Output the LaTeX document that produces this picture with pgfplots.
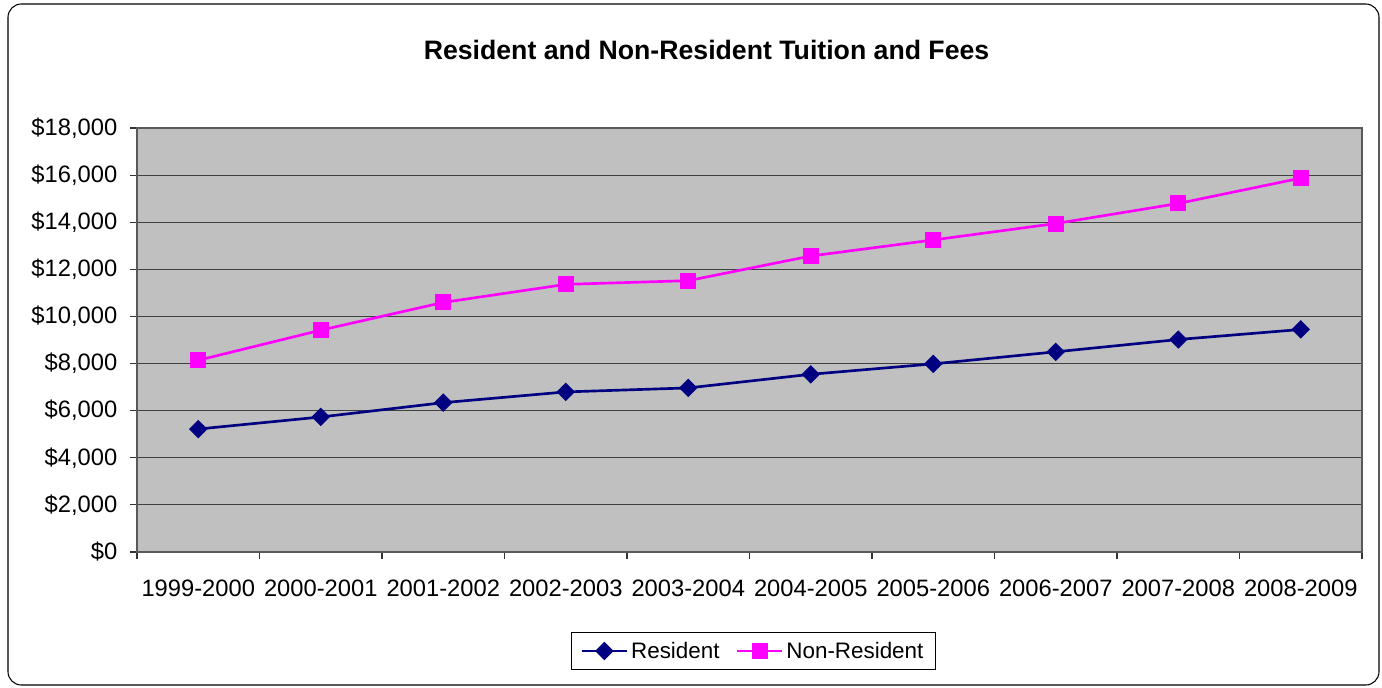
\documentclass[border=0pt]{standalone}
\usepackage{pgfplots}
\pgfplotsset{compat=1.18}
\usepackage{fontspec}
\setmainfont{Liberation Sans}
\definecolor{resblue}{HTML}{000080}
\definecolor{nonres}{HTML}{FF00FF}
\definecolor{plotbg}{HTML}{C0C0C0}
\begin{document}
\begin{tikzpicture}
\path[use as bounding box] (0,0) rectangle (1036.5pt,515.25pt);
\draw[black, line width=0.8pt, rounded corners=10pt] (6pt,1.5pt) rectangle (1034.25pt,512.25pt);
\node[font=\fontsize{20}{23}\selectfont\bfseries] at (529.9pt,477.75pt) {Resident and Non-Resident Tuition and Fees};
\begin{axis}[
  at={(102.75pt,101.25pt)}, anchor=south west,
  scale only axis, width=918.75pt, height=318pt,
  xmin=-0.5, xmax=9.5, ymin=0, ymax=18000,
  scaled y ticks=false,
  axis background/.style={fill=plotbg},
  axis line style={draw=gray!70!black, line width=0.8pt},
  font=\fontsize{17.8}{20}\selectfont,
  xtick pos=bottom, ytick pos=left,
  xtick={0,...,9},
  xticklabels={1999-2000,2000-2001,2001-2002,2002-2003,2003-2004,2004-2005,2005-2006,2006-2007,2007-2008,2008-2009},
  x tick style={draw=none},
  minor xtick={-0.5,0.5,1.5,2.5,3.5,4.5,5.5,6.5,7.5,8.5,9.5},
  minor x tick style={draw=black!80, line width=0.8pt},
  minor tick length=5.25pt,
  xticklabel style={yshift=-12pt},
  ytick={0,2000,4000,6000,8000,10000,12000,14000,16000,18000},
  yticklabels={{\$0},{\$2,000},{\$4,000},{\$6,000},{\$8,000},{\$10,000},{\$12,000},{\$14,000},{\$16,000},{\$18,000}},
  y tick style={draw=black!80, line width=0.8pt},
  major tick length=5.25pt,
  tick align=outside,
  yticklabel style={xshift=-6pt},
  ymajorgrids,
  grid style={draw=black!75, line width=0.8pt},
  clip=false,
  legend columns=2,
  legend style={at={(0.503,-0.2335)}, anchor=center, draw=black, line width=0.6pt,
    font=\fontsize{16.8}{19}\selectfont, inner xsep=7pt, inner ysep=5pt,
    /tikz/every even column/.append style={column sep=10pt}},
  legend image code/.code={\draw[#1] (0pt,0pt) -- (0.6cm,0pt) -- (1.2cm,0pt); \path[#1, mark repeat=2, mark phase=2] plot coordinates {(0pt,0pt) (0.6cm,0pt) (1.2cm,0pt)};},
]
\addplot[resblue, line width=2pt, mark=square*, mark size=3.9pt, mark options={rotate=45, solid, fill=resblue}]
  coordinates {(0,5221) (1,5732) (2,6340) (3,6796) (4,6966) (5,7545) (6,7987) (7,8498) (8,9021) (9,9447)};
\addlegendentry{Resident}
\addplot[nonres, line width=2pt, mark=square*, mark size=5pt, mark options={solid, fill=nonres}]
  coordinates {(0,8140) (1,9417) (2,10596) (3,11362) (4,11519) (5,12566) (6,13247) (7,13945) (8,14796) (9,15872)};
\addlegendentry{Non-Resident}
\end{axis}
\end{tikzpicture}
\end{document}
